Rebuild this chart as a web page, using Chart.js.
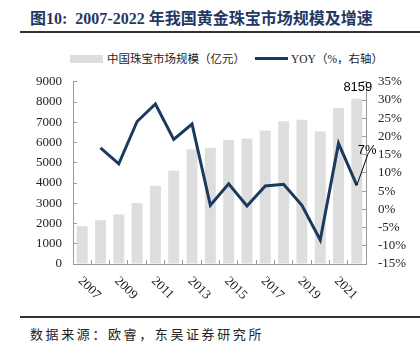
<!DOCTYPE html>
<html>
<head>
<meta charset="utf-8">
<script src="https://cdn.jsdelivr.net/npm/chart.js@4/dist/chart.umd.min.js"></script>
<style>
  body { margin: 0; width: 420px; height: 353px; background: #fff; position: relative; overflow: hidden; font-family: "Liberation Serif", "Noto Sans CJK SC", serif; }
  #title { position: absolute; left: 30px; top: 5px; font-size: 16px; font-weight: bold; color: #1f3864; white-space: nowrap; }
  .rule { position: absolute; left: 20px; width: 400px; height: 2px; background: #333; }
  #legend { position: absolute; top: 51px; left: 0; width: 420px; height: 16px; font-size: 11.5px; color: #222; }
  .lg { position: absolute; white-space: nowrap; line-height: 16px; }
  #src { position: absolute; left: 30px; top: 324px; font-size: 13px; letter-spacing: 2.6px; color: #222; white-space: nowrap; }
  #wrap { position: absolute; left: 0; top: 58px; width: 420px; height: 250px; }
</style>
</head>
<body>
<div id="title">图10:&nbsp; 2007-2022 年我国黄金珠宝市场规模及增速</div>
<div class="rule" style="top:31px"></div>
<div id="legend">
  <div class="lg" style="left:70px;top:4px;width:33px;height:8px;background:#dedede"></div>
  <div class="lg" style="left:107px;top:0">中国珠宝市场规模（亿元）</div>
  <div class="lg" style="left:255px;top:6px;width:33px;height:3px;background:#1c3a5e"></div>
  <div class="lg" style="left:291px;top:0">YOY（%，右轴）</div>
</div>
<div id="wrap"><canvas id="c"></canvas></div>
<div class="rule" style="top:316px"></div>
<div id="src">数据来源：欧睿，东吴证券研究所</div>
<script>
const years = ["2007","2008","2009","2010","2011","2012","2013","2014","2015","2016","2017","2018","2019","2020","2021","2022"];
const marketSize = [1870, 2160, 2440, 3015, 3870, 4610, 5660, 5740, 6130, 6200, 6590, 7050, 7130, 6540, 7710, 8159];
const yoy = [null, 16.9, 12.5, 24.1, 28.9, 19.2, 23.4, 1.1, 7.0, 0.9, 6.4, 6.9, 1.1, -8.4, 18.1, 6.6];
const lastSizeLabel = "8159";
const lastYoyLabel = "7%";

const AXIS = "#999";
const TXT = "#222";
const serif = "Liberation Serif";

// x labels are drawn clockwise at 45deg, every other year
const xLabels = {
    id: "xLabels",
    afterDraw(chart) {
        const { ctx, chartArea, scales } = chart;
        ctx.save();
        ctx.fillStyle = TXT;
        ctx.font = "13px " + serif;
        ctx.textAlign = "left";
        ctx.textBaseline = "middle";
        years.forEach((y, i) => {
            if (i % 2) return;
            const x = scales.x.getPixelForValue(i);
            ctx.save();
            ctx.translate(x - 2, chartArea.bottom + 15);
            ctx.rotate(Math.PI / 4);
            ctx.fillText(y, 0, 0);
            ctx.restore();
        });

        // end labels
        const n = years.length - 1;
        const bx = scales.x.getPixelForValue(n);
        ctx.font = "13px Liberation Sans";
        ctx.textAlign = "center";
        ctx.textBaseline = "alphabetic";
        ctx.fillStyle = "#000";
        ctx.fillText(lastSizeLabel, bx + 1, scales.y.getPixelForValue(marketSize[n]) - 8);

        const py = scales.y2.getPixelForValue(yoy[n]);
        ctx.strokeStyle = "#000";
        ctx.lineWidth = 1;
        ctx.beginPath();
        ctx.moveTo(bx, py);
        ctx.lineTo(bx + 11, py - 31);
        ctx.stroke();
        ctx.textAlign = "left";
        ctx.fillText(lastYoyLabel, bx + 1, py - 31);
        ctx.restore();
    }
};

new Chart(document.getElementById("c"), {
    type: "bar",
    data: {
        labels: years,
        datasets: [
            {
                type: "line",
                label: "YOY（%，右轴）",
                data: yoy,
                yAxisID: "y2",
                borderColor: "#1c3a5e",
                borderWidth: 3,
                pointRadius: 0,
                tension: 0,
                fill: false,
                order: 0,
            },
            {
                label: "中国珠宝市场规模（亿元）",
                data: marketSize,
                yAxisID: "y",
                backgroundColor: "#dedede",
                categoryPercentage: 1,
                barPercentage: 0.6,
                order: 1,
            },
        ]
    },
    options: {
        responsive: true,
        maintainAspectRatio: false,
        animation: false,
        layout: { padding: { top: 3, left: 0, right: 0, bottom: 0 } },
        plugins: {
            legend: { display: false },
            tooltip: { enabled: false },
        },
        scales: {
            x: {
                offset: true,
                grid: { offset: true, drawOnChartArea: false, tickLength: -4, color: AXIS },
                border: { color: AXIS },
                ticks: { display: false },
                afterFit: s => { s.height = 44; },
            },
            y: {
                position: "left",
                min: 0, max: 9000,
                ticks: { stepSize: 1000, autoSkip: false, color: TXT, font: { family: serif, size: 13 }, padding: 15, callback: v => String(v) },
                grid: { drawOnChartArea: false, tickLength: -4, color: AXIS },
                border: { color: AXIS },
                afterFit: s => { s.width = 73; },
            },
            y2: {
                position: "right",
                min: -15, max: 35,
                ticks: { stepSize: 5, autoSkip: false, color: TXT, font: { family: serif, size: 13 }, padding: 16, callback: v => v + "%" },
                grid: { drawOnChartArea: false, tickLength: -4, color: AXIS },
                border: { color: AXIS },
                afterFit: s => { s.width = 54; },
            }
        }
    },
    plugins: [xLabels]
});
</script>
</body>
</html>
